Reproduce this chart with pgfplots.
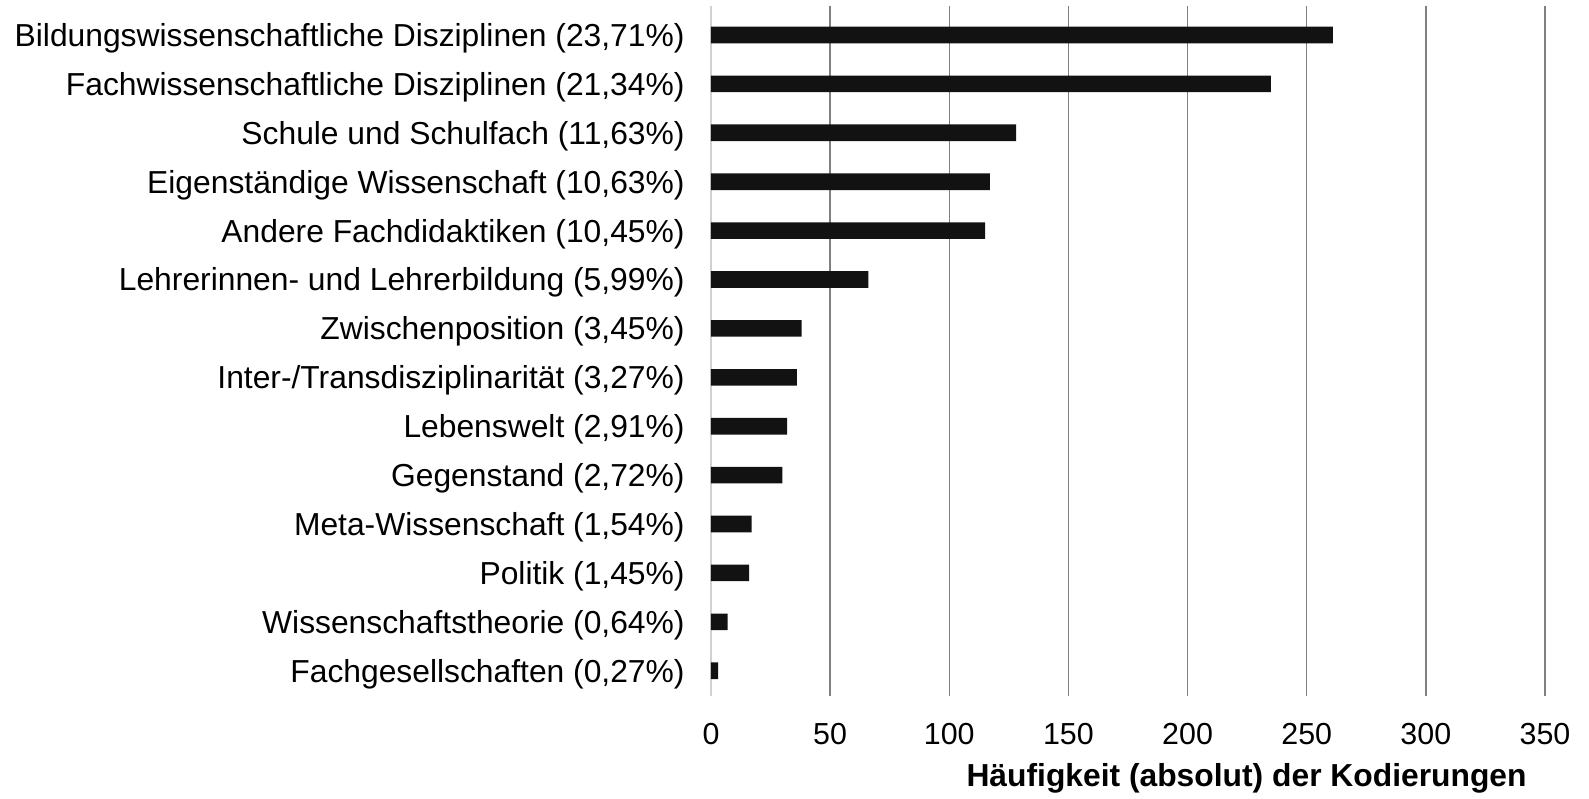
\documentclass[border=0pt]{standalone}
\usepackage{fontspec}
\setmainfont{Liberation Sans}
\usepackage{pgfplots}
\pgfplotsset{compat=1.18}
\begin{document}
\begin{tikzpicture}
\begin{axis}[
  scale only axis,
  width=417pt, height=344.85pt,
  xbar, bar width=0.34,
  y dir=reverse,
  xmin=0, xmax=350,
  ymin=-0.593, ymax=13.511,
  xtick={0,50,...,350},
  ytick={0,...,13},
  yticklabels={
    Bildungswissenschaftliche Disziplinen (23{,}71\%),
    Fachwissenschaftliche Disziplinen (21{,}34\%),
    Schule und Schulfach (11{,}63\%),
    Eigenständige Wissenschaft (10{,}63\%),
    Andere Fachdidaktiken (10{,}45\%),
    Lehrerinnen- und Lehrerbildung (5{,}99\%),
    Zwischenposition (3{,}45\%),
    Inter-/Transdisziplinarität (3{,}27\%),
    Lebenswelt (2{,}91\%),
    Gegenstand (2{,}72\%),
    Meta-Wissenschaft (1{,}54\%),
    Politik (1{,}45\%),
    Wissenschaftstheorie (0{,}64\%),
    Fachgesellschaften (0{,}27\%)},
  axis lines*=left,
  axis line style={-},
  x axis line style={draw=none},
  y axis line style={draw=black!18, line width=0.6pt},
  major tick length=0pt,
  xmajorgrids,
  major grid style={draw=black!50, line width=0.75pt},
  /pgf/number format/assume math mode=true,
  yticklabel style={font=\fontsize{15.9}{19}\selectfont, anchor=base east, inner sep=0pt, xshift=-13pt, yshift=-5.7pt},
  xticklabel style={font=\fontsize{15.2}{18}\selectfont, anchor=base, inner sep=0pt, yshift=-24.15pt},
  xlabel={Häufigkeit (absolut) der Kodierungen},
  xlabel style={font=\fontsize{15.9}{19}\selectfont\bfseries, at={(rel axis cs:0.9784,0)}, anchor=base east, inner sep=0pt, yshift=-45.15pt},
]
\addplot[fill=black!93, draw=none] coordinates {
  (261,0) (235,1) (128,2) (117,3) (115,4) (66,5) (38,6) (36,7)
  (32,8) (30,9) (17,10) (16,11) (7,12) (3,13)
};
\coordinate (ll) at (rel axis cs:0,0);
\coordinate (ur) at (rel axis cs:1,1);
\end{axis}
\pgfresetboundingbox
\path ([xshift=-355.5pt,yshift=-51.15pt]ll) rectangle ([xshift=22pt,yshift=3pt]ur);
\end{tikzpicture}
\end{document}
